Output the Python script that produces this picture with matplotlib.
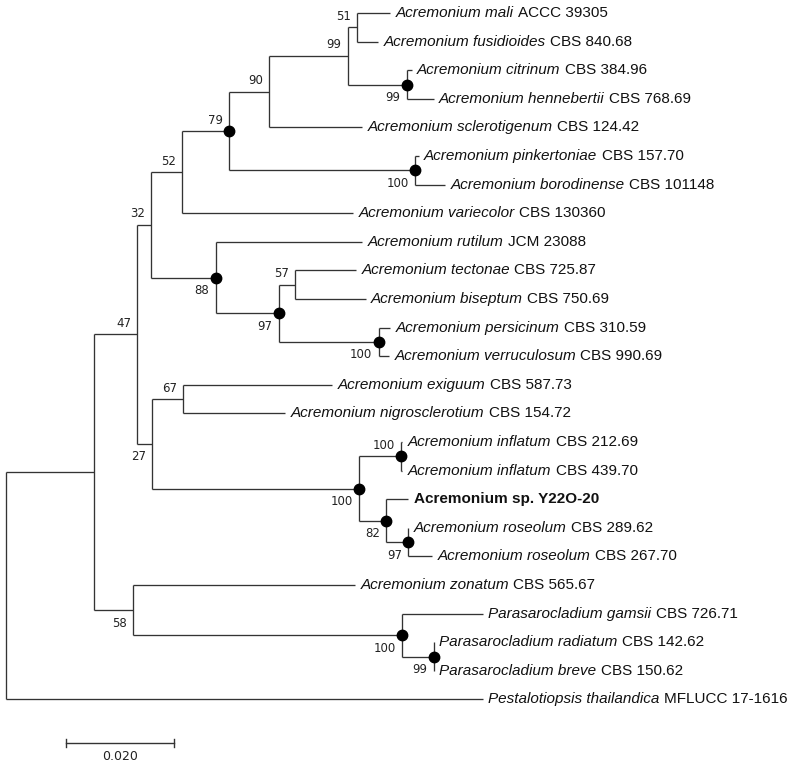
import matplotlib
matplotlib.use("Agg")
import matplotlib.pyplot as plt

# internal nodes: name, parent, branch length, bootstrap support, filled dot
node_names = ["root", "A", "n47", "n32", "n52", "n79", "n90", "n99", "n51", "cit",
              "pink", "n88", "n97", "n57", "pers", "n27", "n67", "n100", "infl",
              "n82", "ros", "n58", "para", "brev"]
node_parents = [None, "root", "A", "n47", "n32", "n52", "n79", "n90", "n99", "n99",
                "n79", "n32", "n88", "n97", "n97", "n47", "n27", "n27", "n100",
                "n100", "n82", "A", "n58", "para"]
node_lengths = [0.0, 0.0163, 0.0080, 0.0026, 0.0057, 0.0087, 0.0074, 0.0146, 0.0017, 0.0109,
                0.0344, 0.0119, 0.0117, 0.0030, 0.0185, 0.0028, 0.0057, 0.0383, 0.0078,
                0.0050, 0.0041, 0.0072, 0.0498, 0.0059]
node_support = [None, None, 47, 32, 52, 79, 90, 99, 51, 99,
                100, 88, 97, 57, 100, 27, 67, 100, 100,
                82, 97, 58, 100, 99]
node_dot = [False, False, False, False, False, True, False, False, False, True,
            True, True, True, False, True, False, False, True, True,
            True, True, False, True, True]
labels_below = ["cit", "pink", "n88", "n97", "pers", "n27", "n100", "n82", "ros",
                "n58", "para", "brev"]

# leaves, top to bottom
leaf_species = ["Acremonium mali", "Acremonium fusidioides", "Acremonium citrinum",
                "Acremonium hennebertii", "Acremonium sclerotigenum", "Acremonium pinkertoniae",
                "Acremonium borodinense", "Acremonium variecolor", "Acremonium rutilum",
                "Acremonium tectonae", "Acremonium biseptum", "Acremonium persicinum",
                "Acremonium verruculosum", "Acremonium exiguum", "Acremonium nigrosclerotium",
                "Acremonium inflatum", "Acremonium inflatum", "Acremonium sp. Y22O-20",
                "Acremonium roseolum", "Acremonium roseolum", "Acremonium zonatum",
                "Parasarocladium gamsii", "Parasarocladium radiatum", "Parasarocladium breve",
                "Pestalotiopsis thailandica"]
leaf_strains = ["ACCC 39305", "CBS 840.68", "CBS 384.96", "CBS 768.69", "CBS 124.42",
                "CBS 157.70", "CBS 101148", "CBS 130360", "JCM 23088", "CBS 725.87",
                "CBS 750.69", "CBS 310.59", "CBS 990.69", "CBS 587.73", "CBS 154.72",
                "CBS 212.69", "CBS 439.70", "", "CBS 289.62", "CBS 267.70", "CBS 565.67",
                "CBS 726.71", "CBS 142.62", "CBS 150.62", "MFLUCC 17-1616"]
leaf_parents = ["n51", "n51", "cit", "cit", "n90", "pink", "pink", "n52", "n88", "n57",
                "n57", "pers", "pers", "n67", "n67", "infl", "infl", "n82", "ros", "ros",
                "n58", "para", "brev", "brev", "root"]
leaf_lengths = [0.0061, 0.0039, 0.0009, 0.0050, 0.0172, 0.0007, 0.0056, 0.0317, 0.0272, 0.0113,
                0.0131, 0.0022, 0.0019, 0.0276, 0.0189, 0.0002, 0.0002, 0.0041, 0.0, 0.0044,
                0.0411, 0.0150, 0.0, 0.0, 0.0883]

scale_length = 0.020

line_color = "#333333"
px = scale_length / 108  # data units per pixel

parent = dict(zip(node_names, node_parents))
length = dict(zip(node_names, node_lengths))
ypos = {}
for i in range(len(leaf_species)):
    key = f"leaf{i}"
    parent[key] = leaf_parents[i]
    length[key] = leaf_lengths[i]
    ypos[key] = i

children = {n: [] for n in node_names}
for k, p in parent.items():
    if p is not None:
        children[p].append(k)


def get_x(name):
    if parent[name] is None:
        return 0.0
    return get_x(parent[name]) + length[name]


def get_y(name):
    if name not in ypos:
        ys = [get_y(c) for c in children[name]]
        ypos[name] = (min(ys) + max(ys)) / 2
    return ypos[name]


xpos = {k: get_x(k) for k in parent}
for n in node_names:
    get_y(n)

fig = plt.figure(figsize=(8, 7.67), dpi=100)
ax = fig.add_axes([0, 0, 1, 1])
ax.set_xlim(-6 * px, 794 * px)
ax.set_ylim(26.36, -0.455)
ax.axis("off")

# branches
for k, p in parent.items():
    if p is None:
        continue
    ax.plot([xpos[p], xpos[k]], [ypos[k], ypos[k]], color=line_color, lw=0.95,
            solid_capstyle="butt")
for n in node_names:
    ys = [ypos[c] for c in children[n]]
    ax.plot([xpos[n], xpos[n]], [min(ys), max(ys)], color=line_color, lw=0.95,
            solid_capstyle="butt")

# support values and dots
for n, sup, dot in zip(node_names, node_support, node_dot):
    if dot:
        ax.plot(xpos[n], ypos[n], "o", color="black", ms=7.5, zorder=3)
    if sup is None:
        continue
    dy = 13 if n in labels_below else -11
    ax.annotate(str(sup), (xpos[n], ypos[n]), xytext=(-4.5, -dy * 0.72),
                textcoords="offset points", ha="right", va="center",
                fontsize=8.5, color="#222222", family="DejaVu Sans")

# leaf labels
for i, (sp, st) in enumerate(zip(leaf_species, leaf_strains)):
    key = f"leaf{i}"
    if st == "":
        ax.annotate(sp, (xpos[key], ypos[key]), xytext=(4, 0), textcoords="offset points",
                    ha="left", va="center", fontsize=11, fontweight="bold",
                    family="Liberation Sans", color="#111111")
        continue
    t = ax.annotate(sp, (xpos[key], ypos[key]), xytext=(4, 0), textcoords="offset points",
                    ha="left", va="center", fontsize=11, fontstyle="italic",
                    family="Liberation Sans", color="#111111")
    ax.annotate(st, xy=(1, 0), xycoords=t, xytext=(3, 0), textcoords="offset points",
                ha="left", va="bottom", fontsize=11, family="Liberation Sans",
                color="#111111")

# scale bar
sx0 = 60 * px
sy = 25.52
ax.plot([sx0, sx0 + scale_length], [sy, sy], color=line_color, lw=1)
for xx in (sx0, sx0 + scale_length):
    ax.plot([xx, xx], [sy - 0.15, sy + 0.15], color=line_color, lw=1)
ax.text(sx0 + scale_length / 2, 26.0, f"{scale_length:.3f}", ha="center", va="center",
        fontsize=9, family="DejaVu Sans", color="#222222")

fig.savefig("out.png", dpi=100)
